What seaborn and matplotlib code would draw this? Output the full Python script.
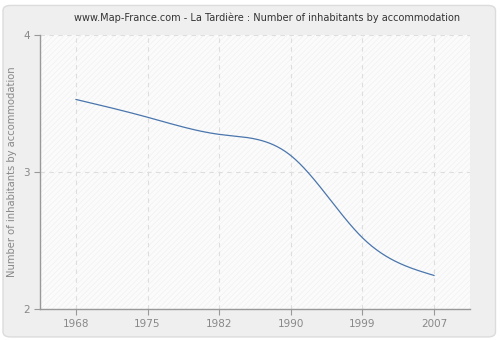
import numpy as np
import pandas as pd
import matplotlib
matplotlib.use("Agg")
import matplotlib.pyplot as plt
from matplotlib.patches import FancyBboxPatch, Rectangle
import seaborn as sns

years = [1968, 1975, 1982, 1990, 1999, 2007]
values = [3.53, 3.40, 3.275, 3.12, 2.52, 2.245]
y_ticks = [2, 3, 4]
title = "www.Map-France.com - La Tardière : Number of inhabitants by accommodation"
ylabel = "Number of inhabitants by accommodation"


def natural_spline(x, y, n=400):
    x = np.asarray(x, float)
    y = np.asarray(y, float)
    m = len(x)
    h = np.diff(x)
    A = np.zeros((m, m))
    b = np.zeros(m)
    A[0, 0] = 1
    A[-1, -1] = 1
    for i in range(1, m - 1):
        A[i, i - 1] = h[i - 1]
        A[i, i] = 2 * (h[i - 1] + h[i])
        A[i, i + 1] = h[i]
        b[i] = 6 * ((y[i + 1] - y[i]) / h[i] - (y[i] - y[i - 1]) / h[i - 1])
    M = np.linalg.solve(A, b)
    xs = np.linspace(x[0], x[-1], n)
    idx = np.clip(np.searchsorted(x, xs) - 1, 0, m - 2)
    x0, x1 = x[idx], x[idx + 1]
    hh = x1 - x0
    t0 = x1 - xs
    t1 = xs - x0
    ys = (M[idx] * t0 ** 3 / (6 * hh) + M[idx + 1] * t1 ** 3 / (6 * hh)
          + (y[idx] / hh - M[idx] * hh / 6) * t0
          + (y[idx + 1] / hh - M[idx + 1] * hh / 6) * t1)
    return xs, ys


sns.set_theme(style="white")
plt.rcParams['font.family'] = ['DejaVu Sans']
plt.rcParams['hatch.linewidth'] = 0.4

fig = plt.figure(figsize=(5.0, 3.4), dpi=100)
fig.patch.set_facecolor("white")
bg = FancyBboxPatch((0.006, 0.009), 0.985, 0.975, boxstyle="round,pad=0,rounding_size=0.015",
                    transform=fig.transFigure, facecolor="#efefef",
                    edgecolor="#dcdcdc", linewidth=1.0, zorder=-10)
fig.patches.append(bg)

ax = fig.add_axes([0.08, 0.091, 0.86, 0.806])
ax.set_zorder(1)
ax.set_facecolor("#fbfbfb")
ax.add_patch(Rectangle((0, 0), 1, 1, transform=ax.transAxes, facecolor="none",
                       edgecolor="#efefef", hatch="//////", linewidth=0, zorder=0))

positions = np.arange(len(years))
xs, ys = natural_spline(positions, values)
df = pd.DataFrame({"pos": xs, "value": ys})
sns.lineplot(data=df, x="pos", y="value", ax=ax, color="#4a76ad", linewidth=0.9, zorder=3)

ax.set_xlim(-0.5, len(years) - 0.5)
ax.set_ylim(2, 4)
ax.set_xticks(positions)
ax.set_xticklabels([str(y) for y in years])
ax.set_yticks(y_ticks)
ax.set_yticklabels([str(v) for v in y_ticks])

ax.grid(True, color="#dedede", linestyle=(0, (4, 4)), linewidth=0.8)
ax.set_axisbelow(True)

for s in ["top", "right"]:
    ax.spines[s].set_visible(False)
for s in ["left", "bottom"]:
    ax.spines[s].set_color("#999999")
    ax.spines[s].set_linewidth(1.0)

ax.tick_params(axis="both", which="both", length=4, width=0.8, color="#999999",
               labelcolor="#888888", labelsize=7.5, direction="out", pad=3,
               bottom=True, left=True)

ax.set_xlabel("")
ax.set_ylabel(ylabel, fontsize=7.2, color="#888888", labelpad=5)
fig.text(0.534, 1 - 18 / 340, title, fontsize=7.0, color="#333333", ha="center", va="center")

fig.savefig("out.png", dpi=100, facecolor=fig.get_facecolor())
